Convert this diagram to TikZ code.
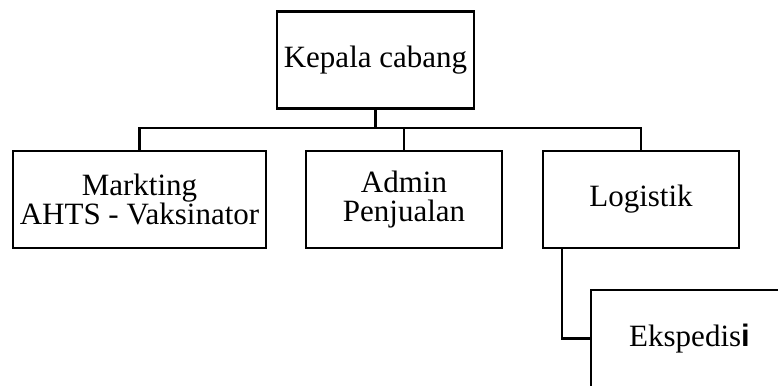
\documentclass[tikz,border=0pt]{standalone}
\usepackage{fontspec}
\setmainfont{Liberation Serif}
\newfontfamily\arialfont{Liberation Sans}
\usepackage{tikz}
\usetikzlibrary{positioning}

\tikzset{
  unit/.style={draw, line width=2.5pt, minimum width=196pt, minimum height=97pt,
    align=center, inner sep=0pt, outer sep=0pt,
    font=\fontsize{31}{29}\selectfont},
  link/.style={line width=2.5pt},
}

\begin{document}
\begin{tikzpicture}[x=1pt, y=-1pt]
  \clip (0,0) rectangle (778,385);

  % Pimpinan
  \node [unit, minimum width=197pt] (kepala) at (375.5,60) {Kepala cabang};

  % Bagian
  \node [unit, minimum width=253pt] (markting) at (139.5,199.5) {Markting\\AHTS - Vaksinator};
  \node [unit, right=40pt of markting] (admin) {Admin\\Penjualan};
  \node [unit, right=41pt of admin] (logistik) {Logistik};
  \node [unit, minimum width=197pt] (ekspedisi) at (689.5,338.5) {Ekspedis{\arialfont\bfseries i}};

  % Garis
  \coordinate (bus) at (0,128);
  \draw [link] (kepala.south) -- (kepala.south |- bus);
  \draw [link] (markting.north) -- (markting.north |- bus) -- (logistik.north |- bus) -- (logistik.north);
  \draw [link] (admin.north) -- (admin.north |- bus);
  \coordinate (turun) at (562,248);
  \draw [link] (turun) |- (ekspedisi.west);
\end{tikzpicture}
\end{document}
